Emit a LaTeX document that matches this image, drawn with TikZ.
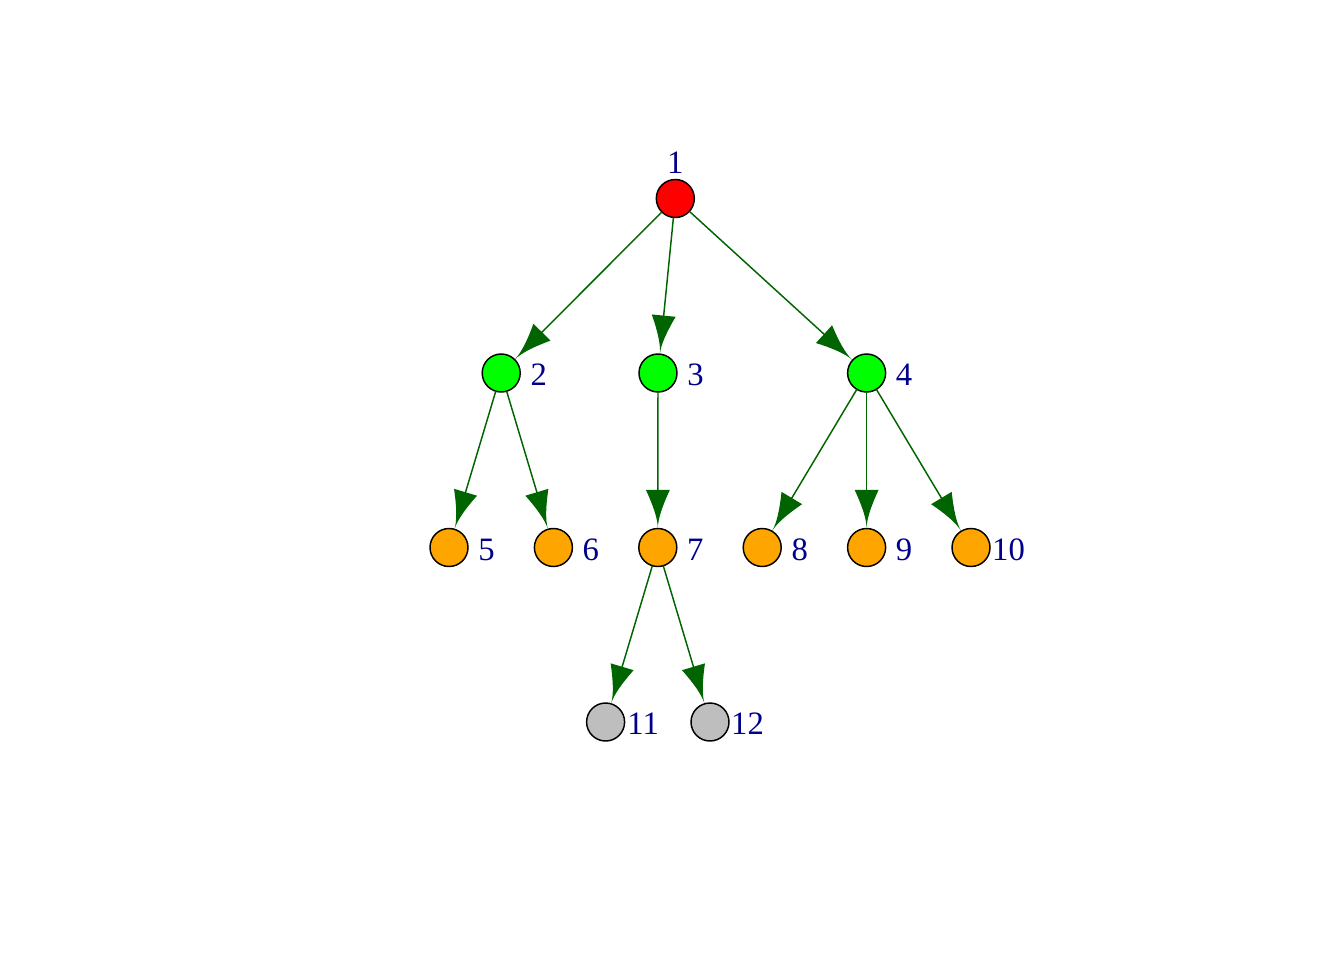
\documentclass[tikz,border=0pt]{standalone}
\usepackage{fontspec}
\setmainfont{Liberation Serif}
\usetikzlibrary{arrows.meta}
\definecolor{edgegreen}{HTML}{006400}
\definecolor{lblblue}{HTML}{00008B}
\definecolor{ndred}{HTML}{FF0000}
\definecolor{ndgreen}{HTML}{00FF00}
\definecolor{ndorange}{HTML}{FFA500}
\definecolor{ndgray}{HTML}{BEBEBE}
\pgfdeclarearrow{
  name = IG,
  parameters = {\the\pgfarrowlength,\the\pgfarrowwidth},
  setup code = {
    \pgfarrowssettipend{0pt}
    \pgfarrowssetbackend{-\pgfarrowlength}
    \pgfarrowssetlineend{-.5\pgfarrowlength}
    \pgfarrowsupperhullpoint{-\pgfarrowlength}{.5\pgfarrowwidth}
    \pgfarrowsupperhullpoint{0pt}{0pt}
    \pgfarrowssavethe\pgfarrowlength
    \pgfarrowssavethe\pgfarrowwidth
  },
  drawing code = {
    \pgfpathmoveto{\pgfpointorigin}
    \pgfpathcurveto{\pgfpoint{-.25\pgfarrowlength}{0pt}}{\pgfpoint{-.6\pgfarrowlength}{.2\pgfarrowwidth}}{\pgfpoint{-\pgfarrowlength}{.5\pgfarrowwidth}}
    \pgfpathlineto{\pgfpoint{-\pgfarrowlength}{-.5\pgfarrowwidth}}
    \pgfpathcurveto{\pgfpoint{-.6\pgfarrowlength}{-.2\pgfarrowwidth}}{\pgfpoint{-.25\pgfarrowlength}{0pt}}{\pgfpointorigin}
    \pgfpathclose
    \pgfusepathqfill
  },
  defaults = {length = 30pt, width = 18pt}
}
\begin{document}
\begin{tikzpicture}[x=0.75pt,y=-0.75pt,
  vtx/.style={circle,draw=black,line width=1.1pt,minimum size=28.5pt,inner sep=0pt,outer sep=0pt},
  edge/.style={draw=edgegreen,line width=1.1pt,-{IG[length=29pt,width=18pt]}},
  lbl/.style={text=lblblue,font=\fontsize{24.5}{28}\selectfont,inner sep=0pt}]
\useasboundingbox (0,0) rectangle (1344,960);
% vertices
\node[vtx,fill=ndred]    (n1)  at (675.3,198.5) {};
\node[vtx,fill=ndgreen]  (n2)  at (501.2,373) {};
\node[vtx,fill=ndgreen]  (n3)  at (658,373) {};
\node[vtx,fill=ndgreen]  (n4)  at (866.6,373) {};
\node[vtx,fill=ndorange] (n5)  at (449,547.5) {};
\node[vtx,fill=ndorange] (n6)  at (553.4,547.5) {};
\node[vtx,fill=ndorange] (n7)  at (657.8,547.5) {};
\node[vtx,fill=ndorange] (n8)  at (762.2,547.5) {};
\node[vtx,fill=ndorange] (n9)  at (866.6,547.5) {};
\node[vtx,fill=ndorange] (n10) at (971,547.5) {};
\node[vtx,fill=ndgray]   (n11) at (605.6,722) {};
\node[vtx,fill=ndgray]   (n12) at (710,722) {};
% labels
\node[lbl] (l1)  at (675.3,163) {1};
\node[lbl] (l2)  at (538.7,375) {2};
\node[lbl] (l3)  at (695.5,375) {3};
\node[lbl] (l4)  at (904.1,375) {4};
\node[lbl] (l5)  at (486.5,549.5) {5};
\node[lbl] (l6)  at (590.9,549.5) {6};
\node[lbl] (l7)  at (695.3,549.5) {7};
\node[lbl] (l8)  at (799.7,549.5) {8};
\node[lbl] (l9)  at (904.1,549.5) {9};
\node[lbl] (l10) at (1008.5,549.5) {10};
\node[lbl] (l11) at (643.1,724) {11};
\node[lbl] (l12) at (747.5,724) {12};
% edges
\draw[edge] (n1) -- (n2);
\draw[edge] (n1) -- (n3);
\draw[edge] (n1) -- (n4);
\draw[edge] (n2) -- (n5);
\draw[edge] (n2) -- (n6);
\draw[edge] (n3) -- (n7);
\draw[edge] (n4) -- (n8);
\draw[edge] (n4) -- (n9);
\draw[edge] (n4) -- (n10);
\draw[edge] (n7) -- (n11);
\draw[edge] (n7) -- (n12);
\end{tikzpicture}
\end{document}
